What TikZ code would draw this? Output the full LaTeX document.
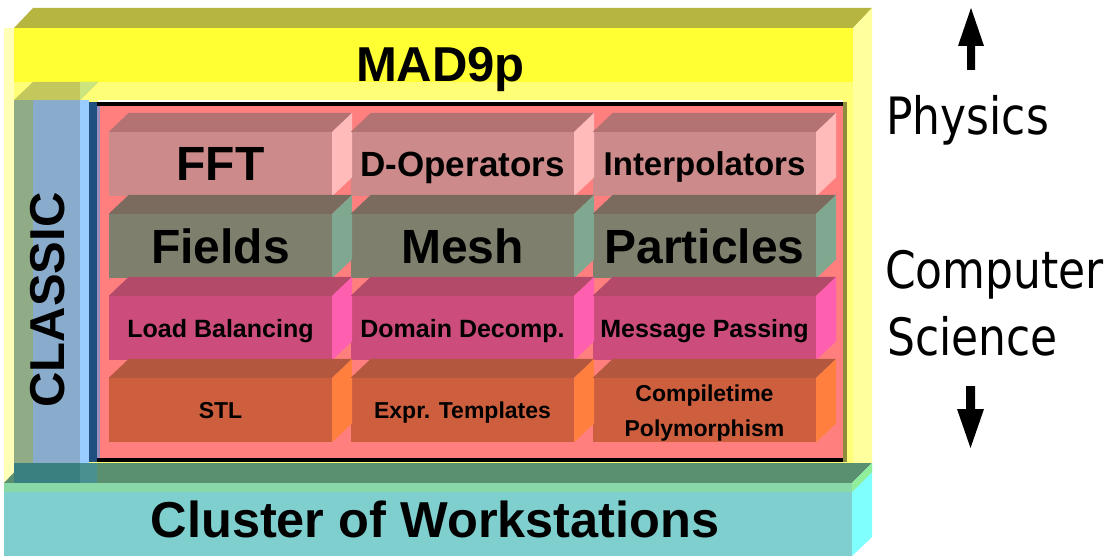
\documentclass[tikz,border=0pt]{standalone}
\usepackage{fontspec}
\setmainfont{Liberation Sans}
\newfontfamily\handfont{DejaVu Sans}
\definecolor{ylw}{HTML}{FFFF33}
\definecolor{ylwtop}{HTML}{B5B540}
\definecolor{ylwlight}{HTML}{FFFF77}
\definecolor{ylwside}{HTML}{FFFF9E}
\definecolor{ylwstrip}{HTML}{FFFFB8}
\definecolor{clstop}{HTML}{C4C85C}
\definecolor{clstri}{HTML}{CCE57F}
\definecolor{clsgreen}{HTML}{8FAC86}
\definecolor{clsblue}{HTML}{8AACCC}
\definecolor{clslight}{HTML}{99CCFF}
\definecolor{frblue}{HTML}{1F4F7F}
\definecolor{frpurple}{HTML}{9B8FC0}
\definecolor{salmon}{HTML}{FF7F7F}
\definecolor{frolive}{HTML}{8C8C3C}
\definecolor{aF}{HTML}{CC8A8A}\definecolor{aT}{HTML}{B37373}\definecolor{aS}{HTML}{FFBABA}
\definecolor{bF}{HTML}{7F7F6E}\definecolor{bT}{HTML}{7B6A5E}\definecolor{bS}{HTML}{80A890}
\definecolor{cF}{HTML}{CC4C7C}\definecolor{cT}{HTML}{B34A6A}\definecolor{cS}{HTML}{FF5FAF}
\definecolor{dF}{HTML}{CD5F3F}\definecolor{dT}{HTML}{B3573F}\definecolor{dS}{HTML}{FF7F3F}
\definecolor{cltop}{HTML}{5A9070}
\definecolor{clteal}{HTML}{3A8080}
\definecolor{clteal2}{HTML}{4A9090}
\definecolor{clchk}{HTML}{88D8A8}
\definecolor{clfront}{HTML}{7FCFCF}
\definecolor{clside}{HTML}{80FFFF}
\definecolor{clsidetop}{HTML}{90EE9A}
\newcommand{\blockfaces}[3]{%
  \fill[#2] (#1.north west) -- ++(20,-19) -- ([shift={(20,-19)}]#1.north east) -- (#1.north east) -- cycle;
  \fill[#3] (#1.north east) -- ++(20,-19) -- ([shift={(20,-19)}]#1.south east) -- (#1.south east) -- cycle;}
\begin{document}
\begin{tikzpicture}[x=1pt,y=-1pt,
  blk/.style={minimum width=223pt, minimum height=64pt, inner sep=0pt, text depth=0pt, align=center},
  bigfont/.style={font=\bfseries\fontsize{48}{58}\selectfont},
  midfont/.style={font=\bfseries\fontsize{#1}{#1}\selectfont},
  hand/.style={anchor=base west, inner sep=0pt, font=\handfont\fontsize{44}{52}\selectfont},
  title/.style={anchor=base, inner sep=0pt, font=\bfseries\fontsize{#1}{#1}\selectfont}]
\useasboundingbox (0,0) rectangle (1108,559);
\fill[white] (0,0) rectangle (1108,559);
% yellow MAD9p box
\fill[ylwstrip] (4,28) rectangle (14,483);
\fill[ylwtop] (14,28) -- (33,8) -- (872,8) -- (853,28) -- cycle;
\fill[ylw] (14,28) rectangle (853,82);
\fill[ylwlight] (14,82) rectangle (853,483);
\fill[ylwside] (853,28) -- (872,8) -- (872,463) -- (853,483) -- cycle;
\fill[white] (98,100) rectangle (843,102);
% CLASSIC box
\fill[clstop] (14,100) -- (33,82) -- (98,82) -- (80,100) -- cycle;
\fill[clstri] (80,82) -- (98,82) -- (80,100) -- cycle;
\fill[clsgreen] (14,100) rectangle (33,483);
\fill[clsblue] (33,100) rectangle (80,483);
\fill[clslight] (80,100) rectangle (89,470);
% frame and container
\fill[frblue] (89,102) rectangle (97,462);
\fill[black] (97,102) rectangle (843,106);
\fill[black] (97,458) rectangle (843,462);
\fill[frolive] (843,102) rectangle (847,462);
\fill[frpurple] (97,106) rectangle (100,458);
\fill[salmon] (100,106) rectangle (843,458);
% blocks
\node[blk, fill=aF, bigfont] (fft) at (220.5,164) {FFT};
\node[blk, fill=aF, midfont=35] (dop) at (462.5,164) {D-Operators};
\node[blk, fill=aF, midfont=33] (interp) at (704.5,164) {Interpolators};
\node[blk, fill=bF, bigfont] (fields) at (220.5,246) {Fields};
\node[blk, fill=bF, bigfont] (mesh) at (462.5,246) {Mesh};
\node[blk, fill=bF, bigfont] (particles) at (704.5,246) {Particles};
\node[blk, fill=cF, midfont=25] (load) at (220.5,328) {Load Balancing};
\node[blk, fill=cF, midfont=25] (domain) at (462.5,328) {Domain Decomp.};
\node[blk, fill=cF, midfont=25] (message) at (704.5,328) {Message Passing};
\node[blk, fill=dF, midfont=23] (stl) at (220.5,410) {STL};
\node[blk, fill=dF, midfont=23] (expr) at (462.5,410) {Expr. Templates};
\node[blk, fill=dF] (compile) at (704.5,410) {};
\node[anchor=north, inner sep=0pt, align=center, font=\bfseries\fontsize{23}{35}\selectfont] (compiletxt) at (704.5,385) {Compiletime\\Polymorphism};
\blockfaces{fft}{aT}{aS}\blockfaces{dop}{aT}{aS}\blockfaces{interp}{aT}{aS}
\blockfaces{fields}{bT}{bS}\blockfaces{mesh}{bT}{bS}\blockfaces{particles}{bT}{bS}
\blockfaces{load}{cT}{cS}\blockfaces{domain}{cT}{cS}\blockfaces{message}{cT}{cS}
\blockfaces{stl}{dT}{dS}\blockfaces{expr}{dT}{dS}\blockfaces{compile}{dT}{dS}
% cluster box
\fill[cltop] (4,483) -- (23,463) -- (872,463) -- (852,483) -- cycle;
\fill[clteal] (14,463) rectangle (80,483);
\fill[clteal2] (80,463) rectangle (97,483);
\fill[clchk] (4,483) rectangle (852,492);
\fill[clfront] (4,492) rectangle (852,556);
\fill[clside] (852,483) -- (872,463) -- (872,537) -- (852,556) -- cycle;
\fill[clsidetop] (852,483) -- (872,463) -- (872,472) -- (852,492) -- cycle;
% titles
\node[title=49] (mad) at (440.5,82) {MAD9p};
\node[title=49, rotate=90] (classic) at (64,300) {CLASSIC};
\node[title=50.5] (cluster) at (435,537) {Cluster of Workstations};
% right side
\node[hand] (physics) at (886,135) {\scalebox{1}[1.17]{Physics}};
\node[hand] (computer) at (885,288) {\scalebox{1}[1.17]{Computer}};
\node[hand] (science) at (887,355) {\scalebox{1}[1.17]{Science}};
\fill[black] (967,70) -- (967,46) -- (958,46) -- (971,8) -- (984,46) -- (975,46) -- (975,70) -- cycle;
\fill[black] (966,386) -- (966,409) -- (957,409) -- (970.5,448) -- (984,409) -- (975,409) -- (975,386) -- cycle;
\end{tikzpicture}
\end{document}
